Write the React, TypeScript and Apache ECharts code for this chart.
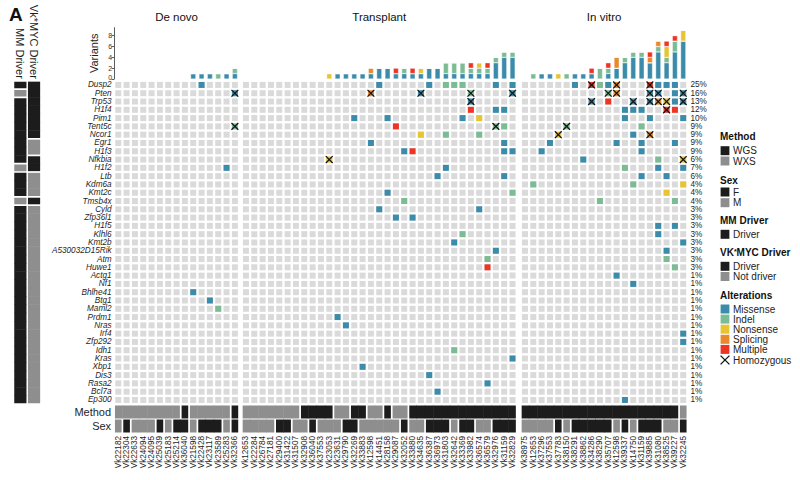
import React, { useEffect, useRef } from "react";
import * as echarts from "echarts";

const FONT = "'Liberation Sans', Arial, Helvetica, sans-serif";

// ---------- data ----------
const genes = ["Dusp2","Pten","Trp53","H1f4","Pim1","Tent5c","Ncor1","Egr1","H1f3","Nfkbia","H1f2","Ltb","Kdm6a","Kmt2c","Tmsb4x","Cyld","Zfp36l1","H1f5","Klhl6","Kmt2b","A530032D15Rik","Atm","Huwe1","Actg1","Nf1","Bhlhe41","Btg1","Maml2","Prdm1","Nras","Irf4","Zfp292","Idh1","Kras","Xbp1","Dis3","Rasa2","Bcl7a","Ep300"];

const genePct = ["25%","16%","13%","12%","10%","9%","9%","9%","9%","6%","7%","6%","4%","4%","4%","3%","3%","3%","3%","3%","3%","3%","3%",
  "1%","1%","1%","1%","1%","1%","1%","1%","1%","1%","1%","1%","1%","1%","1%","1%"];

const mmDriver = ["Driver","Not driver","Driver","Driver","Driver","Driver","Driver","Driver","Driver","Driver","Not driver","Driver","Driver","Driver","Not driver",
  "Driver","Driver","Driver","Driver","Driver","Driver","Driver","Driver","Driver","Driver","Driver","Driver","Driver","Driver","Driver","Driver","Driver","Driver","Driver","Driver","Driver","Driver","Driver","Driver"];

const vkDriver = ["Driver","Driver","Driver","Driver","Driver","Driver","Driver","Not driver","Not driver","Driver","Driver","Not driver","Not driver","Not driver","Driver",
  "Not driver","Not driver","Not driver","Not driver","Not driver","Not driver","Not driver","Not driver","Not driver","Not driver","Not driver","Not driver","Not driver","Not driver","Not driver","Not driver","Not driver","Not driver","Not driver","Not driver","Not driver","Not driver","Not driver","Not driver"];

const groupNames = ["De novo", "Transplant", "In vitro"];

const deNovoSamples = ["Vk22182","Vk22304","Vk22633","Vk24094","Vk24095","Vk25039","Vk25183","Vk25214","Vk36040","Vk21598","Vk22428","Vk23117","Vk23589","Vk25283","Vk32366"];
const transplantSamples = ["Vk12653","Vk22284","Vk26784","Vk27181","Vk29400","Vk31422","Vk31507","Vk32908","Vk36040","Vk37553","Vk23053","Vk23631","Vk29790","Vk32269","Vk33883","Vk12598","Vk14451","Vk28158","Vk29087","Vk32052","Vk33880","Vk34635","Vk36387","Vk36973","Vk31803","Vk32642","Vk33369","Vk33982","Vk36574","Vk36579","Vk32976","Vk31159","Vk32829"];
const inVitroSamples = ["Vk38975","Vk12653","Vk37296","Vk37553","Vk37783","Vk38150","Vk38291","Vk38862","Vk34286","Vk38290","Vk35707","Vk12598","Vk39337","Vk14750","Vk31159","Vk39885","Vk31080","Vk38525","Vk39227","Vk32245"];

const deNovoMethod = ["WXS","WXS","WXS","WXS","WXS","WXS","WXS","WXS","WGS","WXS","WXS","WXS","WXS","WXS","WGS"];
const transplantMethod = ["WXS","WXS","WXS","WXS","WXS","WXS","WXS","WGS","WGS","WGS","WGS","WXS","WXS","WGS","WGS","WXS","WXS","WGS","WXS","WXS",
  "WGS","WGS","WGS","WGS","WGS","WGS","WGS","WGS","WGS","WGS","WGS","WGS","WGS"];
const inVitroMethod = ["WGS","WGS","WGS","WGS","WGS","WGS","WGS","WGS","WGS","WGS","WGS","WGS","WGS","WGS","WGS","WGS","WGS","WGS","WGS","WXS"];

const deNovoSex = ["M","F","M","M","M","F","M","F","F","M","F","F","F","M","F"];
const transplantSex = ["M","M","M","M","F","F","M","M","F","M","M","M","F","F","M","M","M","M","M","F","M","M","F","F","F","M","F","F","M","M","F","F","F"];
const inVitroSex = ["M","M","M","M","F","M","F","F","F","F","F","M","F","M","F","F","F","M","M","F"];

const altTypes = ["Missense", "Indel", "Nonsense", "Splicing", "Multiple"];

// [sample, gene, alteration, homozygous]
const deNovoAlt = [
  ["Vk21598","Bhlhe41","Missense",0],
  ["Vk22428","Dusp2","Missense",0],
  ["Vk23117","Btg1","Missense",0],
  ["Vk23589","Maml2","Indel",0],
  ["Vk25283","H1f2","Missense",0],
  ["Vk32366","Pten","Missense",1],
  ["Vk32366","Tent5c","Indel",1],
];

const transplantAlt = [
  ["Vk23053","Nfkbia","Nonsense",1],
  ["Vk23631","Prdm1","Missense",0],
  ["Vk29790","Nras","Missense",0],
  ["Vk32269","Pim1","Missense",0],
  ["Vk33883","Xbp1","Missense",0],
  ["Vk12598","Pten","Splicing",1],
  ["Vk12598","Egr1","Missense",0],
  ["Vk14451","Dusp2","Missense",0],
  ["Vk14451","Cyld","Missense",0],
  ["Vk28158","Pim1","Missense",0],
  ["Vk28158","Kmt2c","Missense",0],
  ["Vk29087","Tent5c","Multiple",0],
  ["Vk29087","Zfp36l1","Missense",0],
  ["Vk32052","H1f3","Missense",0],
  ["Vk32052","Tmsb4x","Indel",0],
  ["Vk33880","H1f3","Multiple",0],
  ["Vk33880","Zfp36l1","Missense",0],
  ["Vk34635","Pten","Missense",1],
  ["Vk34635","Ncor1","Nonsense",0],
  ["Vk36387","Dusp2","Missense",0],
  ["Vk36387","Dis3","Missense",0],
  ["Vk36973","Ltb","Missense",0],
  ["Vk36973","Bcl7a","Missense",0],
  ["Vk31803","Dusp2","Indel",0],
  ["Vk31803","Ncor1","Indel",0],
  ["Vk31803","H1f2","Missense",0],
  ["Vk32642","Dusp2","Indel",0],
  ["Vk32642","Kmt2b","Missense",0],
  ["Vk32642","Idh1","Indel",0],
  ["Vk33369","Dusp2","Indel",0],
  ["Vk33369","Pim1","Missense",0],
  ["Vk33369","Klhl6","Indel",0],
  ["Vk33982","Pten","Indel",1],
  ["Vk33982","Trp53","Missense",1],
  ["Vk33982","H1f4","Multiple",0],
  ["Vk36574","Pim1","Nonsense",0],
  ["Vk36574","Ncor1","Indel",0],
  ["Vk36574","Cyld","Missense",0],
  ["Vk36579","Atm","Indel",0],
  ["Vk36579","Huwe1","Multiple",0],
  ["Vk36579","Rasa2","Missense",0],
  ["Vk32976","Dusp2","Missense",0],
  ["Vk32976","H1f4","Missense",0],
  ["Vk32976","Tent5c","Indel",1],
  ["Vk32976","A530032D15Rik","Missense",0],
  ["Vk31159","H1f4","Missense",0],
  ["Vk31159","Tent5c","Indel",0],
  ["Vk31159","Egr1","Missense",0],
  ["Vk31159","H1f3","Missense",0],
  ["Vk31159","Ltb","Missense",0],
  ["Vk32829","Dusp2","Missense",0],
  ["Vk32829","Pten","Missense",1],
  ["Vk32829","H1f3","Missense",0],
  ["Vk32829","Kmt2c","Indel",0],
  ["Vk32829","Kras","Missense",0],
];

const inVitroAlt = [
  ["Vk12653","Kdm6a","Indel",0],
  ["Vk37296","H1f3","Missense",0],
  ["Vk37553","Egr1","Missense",0],
  ["Vk37783","Ncor1","Nonsense",1],
  ["Vk38150","Tent5c","Indel",1],
  ["Vk38291","Dusp2","Missense",0],
  ["Vk38862","Nfkbia","Missense",0],
  ["Vk34286","Dusp2","Multiple",1],
  ["Vk34286","Trp53","Missense",1],
  ["Vk38290","Dusp2","Indel",0],
  ["Vk38290","Tmsb4x","Indel",0],
  ["Vk35707","Dusp2","Missense",0],
  ["Vk35707","Pten","Indel",1],
  ["Vk35707","Trp53","Multiple",0],
  ["Vk12598","Dusp2","Splicing",1],
  ["Vk12598","Pten","Splicing",1],
  ["Vk12598","Egr1","Missense",0],
  ["Vk12598","Actg1","Missense",0],
  ["Vk39337","H1f4","Missense",0],
  ["Vk39337","Pim1","Missense",0],
  ["Vk39337","H1f2","Indel",0],
  ["Vk39337","Ep300","Missense",0],
  ["Vk14750","Trp53","Missense",1],
  ["Vk14750","H1f4","Missense",0],
  ["Vk14750","Ncor1","Missense",0],
  ["Vk14750","Kdm6a","Indel",0],
  ["Vk14750","Nf1","Missense",0],
  ["Vk31159","H1f4","Missense",0],
  ["Vk31159","Tent5c","Indel",0],
  ["Vk31159","Egr1","Missense",0],
  ["Vk31159","H1f3","Missense",0],
  ["Vk31159","Ltb","Missense",0],
  ["Vk39885","Dusp2","Multiple",1],
  ["Vk39885","Pten","Missense",1],
  ["Vk39885","Trp53","Missense",1],
  ["Vk39885","Pim1","Missense",0],
  ["Vk39885","Ncor1","Splicing",1],
  ["Vk31080","Dusp2","Missense",0],
  ["Vk31080","Pten","Missense",1],
  ["Vk31080","Trp53","Splicing",1],
  ["Vk31080","Nfkbia","Indel",0],
  ["Vk31080","H1f2","Missense",0],
  ["Vk31080","H1f5","Missense",0],
  ["Vk31080","Klhl6","Missense",0],
  ["Vk38525","Dusp2","Missense",0],
  ["Vk38525","Trp53","Nonsense",1],
  ["Vk38525","H1f4","Multiple",1],
  ["Vk38525","Ltb","Missense",0],
  ["Vk38525","Kmt2c","Nonsense",0],
  ["Vk38525","A530032D15Rik","Missense",0],
  ["Vk38525","Atm","Indel",0],
  ["Vk39227","Dusp2","Missense",0],
  ["Vk39227","Pten","Missense",0],
  ["Vk39227","Trp53","Missense",0],
  ["Vk39227","H1f4","Multiple",0],
  ["Vk39227","Egr1","Missense",0],
  ["Vk39227","Tmsb4x","Indel",0],
  ["Vk39227","H1f5","Missense",0],
  ["Vk39227","Huwe1","Indel",0],
  ["Vk32245","Pten","Missense",1],
  ["Vk32245","Trp53","Missense",1],
  ["Vk32245","Pim1","Missense",0],
  ["Vk32245","Nfkbia","Nonsense",1],
  ["Vk32245","H1f2","Missense",0],
  ["Vk32245","Kdm6a","Nonsense",0],
  ["Vk32245","Kmt2b","Missense",0],
  ["Vk32245","Irf4","Missense",0],
  ["Vk32245","Zfp292","Missense",0],
];

const barTicks = [0, 2, 4, 6, 8];

// ---------- styling / layout ----------
const altColors = ["#3b8cab", "#7cbc95", "#e8c433", "#e8892c", "#ee3525"];
const DARK = "#1c1c1c";
const MID = "#8e8e8e";
const CELLBG = "#dadada";
const TXT = "#1e1e1e";

const COL = 8.33;
const ROW = 8.29;
const CELL = 6.0;
const GAP = 0.85;
const groupLeft = [114.1, 241.8, 520.8];
const GENE_TOP = 80.8;
const GENE_H = genes.length * ROW;
const BAR_TOP = 27.6;
const BAR_H = 51.4;
const ANN_TOP = 405;
const ANN_H = 28;
const SMALL = 8.2;

function buildOption() {
  const groups = [
    { samples: deNovoSamples, method: deNovoMethod, sex: deNovoSex, alts: deNovoAlt },
    { samples: transplantSamples, method: transplantMethod, sex: transplantSex, alts: transplantAlt },
    { samples: inVitroSamples, method: inVitroMethod, sex: inVitroSex, alts: inVitroAlt },
  ];

  const grid: any[] = [];
  const xAxis: any[] = [];
  const yAxis: any[] = [];
  const series: any[] = [];

  groups.forEach((g, gi) => {
    grid.push({ left: groupLeft[gi], top: BAR_TOP, width: g.samples.length * COL, height: BAR_H, outerBoundsMode: "none" });
  });
  groups.forEach((g, gi) => {
    grid.push({ left: groupLeft[gi], top: GENE_TOP, width: g.samples.length * COL, height: GENE_H, outerBoundsMode: "none" });
  });
  groups.forEach((g, gi) => {
    grid.push({ left: groupLeft[gi], top: ANN_TOP, width: g.samples.length * COL, height: ANN_H, outerBoundsMode: "none" });
  });
  grid.push({ left: 13.5, top: GENE_TOP, width: 27.4, height: GENE_H, outerBoundsMode: "none" });

  groups.forEach((g, gi) => {
    xAxis.push({ type: "category", gridIndex: gi, data: g.samples, show: false, boundaryGap: true });
    yAxis.push(
      gi === 0
        ? {
            type: "value", gridIndex: 0, min: 0, max: 9.5,
            name: "Variants", nameLocation: "middle", nameRotate: 90, nameGap: 15,
            nameTextStyle: { fontSize: 11, color: TXT, fontFamily: FONT },
            axisLine: { show: true, lineStyle: { color: "#333", width: 0.8 } },
            axisTick: { show: true, length: 2.5, lineStyle: { color: "#333", width: 0.8 }, customValues: barTicks },
            axisLabel: {
              fontSize: 7, margin: 2, color: "#333", fontFamily: FONT, customValues: barTicks,
              formatter: (v: number) => (v === 0 ? "{z|0}" : String(v)),
              rich: { z: { fontSize: 7, color: "#333", fontFamily: FONT, padding: [0, 0, 3, 0] } },
            },
            splitLine: { show: false },
          }
        : { type: "value", gridIndex: gi, min: 0, max: 9.5, show: false, splitLine: { show: false } }
    );
  });
  groups.forEach((g, gi) => {
    xAxis.push({ type: "category", gridIndex: 3 + gi, data: g.samples, show: false });
    if (gi === 0) {
      yAxis.push({
        type: "category", gridIndex: 3, data: genes, inverse: true,
        axisLine: { show: false }, axisTick: { show: false },
        axisLabel: { interval: 0, fontSize: SMALL, lineHeight: 8, fontStyle: "italic", color: TXT, margin: 2.5, fontFamily: FONT },
      });
    } else if (gi === 2) {
      yAxis.push({
        type: "category", gridIndex: 5, data: genes, inverse: true, position: "right",
        axisLine: { show: false }, axisTick: { show: false },
        axisLabel: { interval: 0, fontSize: SMALL, lineHeight: 8, color: TXT, margin: 3, fontFamily: FONT, formatter: (_v: any, i: number) => genePct[i] },
      });
    } else {
      yAxis.push({ type: "category", gridIndex: 3 + gi, data: genes, inverse: true, show: false });
    }
  });
  groups.forEach((g, gi) => {
    xAxis.push({
      type: "category", gridIndex: 6 + gi, data: g.samples, position: "bottom",
      axisLine: { show: false }, axisTick: { show: false },
      axisLabel: { interval: 0, rotate: 90, fontSize: SMALL, lineHeight: 8, color: TXT, margin: 3, fontFamily: FONT },
    });
    yAxis.push(
      gi === 0
        ? {
            type: "category", gridIndex: 6, data: ["Method", "Sex"], inverse: true,
            axisLine: { show: false }, axisTick: { show: false },
            axisLabel: { interval: 0, fontSize: 11, color: TXT, margin: 3, fontFamily: FONT },
          }
        : { type: "category", gridIndex: 6 + gi, data: ["Method", "Sex"], inverse: true, show: false }
    );
  });
  xAxis.push({
    type: "category", gridIndex: 9, data: ["MM Driver", "Vk*MYC Driver"], position: "top",
    axisLine: { show: false }, axisTick: { show: false },
    axisLabel: { interval: 0, rotate: 90, fontSize: 11, lineHeight: 12, color: TXT, margin: 2, fontFamily: FONT },
  });
  yAxis.push({ type: "category", gridIndex: 9, data: genes, inverse: true, show: false });

  // stacked bars: number of variants per sample, by alteration type
  groups.forEach((g, gi) => {
    altTypes.forEach((t, ti) => {
      series.push({
        type: "bar", xAxisIndex: gi, yAxisIndex: gi, stack: "v" + gi, barWidth: 5.2, silent: true,
        itemStyle: { color: altColors[ti], borderColor: "#ffffff", borderWidth: 0.4 },
        data: g.samples.map((s) => g.alts.filter((a) => a[0] === s && a[2] === t).length),
      });
    });
  });

  // oncoprint cells
  groups.forEach((g, gi) => {
    const bg: number[][] = [];
    g.samples.forEach((_s, c) => genes.forEach((_gn, r) => bg.push([c, r])));
    series.push({
      type: "custom", xAxisIndex: 3 + gi, yAxisIndex: 3 + gi, data: bg, silent: true,
      renderItem: (_p: any, api: any) => {
        const pt = api.coord([api.value(0), api.value(1)]);
        return { type: "rect", shape: { x: pt[0] - CELL / 2, y: pt[1] - CELL / 2, width: CELL, height: CELL }, style: { fill: CELLBG } };
      },
    });
    const ad = g.alts.map((a) => [g.samples.indexOf(a[0] as string), genes.indexOf(a[1] as string), altTypes.indexOf(a[2] as string), a[3]]);
    series.push({
      type: "custom", xAxisIndex: 3 + gi, yAxisIndex: 3 + gi, data: ad, silent: true,
      renderItem: (_p: any, api: any) => {
        const pt = api.coord([api.value(0), api.value(1)]);
        const children: any[] = [
          { type: "rect", shape: { x: pt[0] - CELL / 2, y: pt[1] - CELL / 2, width: CELL, height: CELL }, style: { fill: altColors[api.value(2)] } },
        ];
        if (api.value(3)) {
          const h = 3.4;
          children.push(
            { type: "line", shape: { x1: pt[0] - h, y1: pt[1] - h, x2: pt[0] + h, y2: pt[1] + h }, style: { stroke: "#151515", lineWidth: 1.3 } },
            { type: "line", shape: { x1: pt[0] - h, y1: pt[1] + h, x2: pt[0] + h, y2: pt[1] - h }, style: { stroke: "#151515", lineWidth: 1.3 } }
          );
        }
        return { type: "group", children };
      },
    });
  });

  // method / sex annotation rows
  groups.forEach((g, gi) => {
    const d: number[][] = [];
    [g.method, g.sex].forEach((arr, row) => {
      arr.forEach((v, c) => {
        const dark = v === "WGS" || v === "F" ? 1 : 0;
        const gl = c === 0 || arr[c - 1] !== v ? 1 : 0;
        const gr = c === arr.length - 1 || arr[c + 1] !== v ? 1 : 0;
        d.push([c, row, dark, gl, gr]);
      });
    });
    series.push({
      type: "custom", xAxisIndex: 6 + gi, yAxisIndex: 6 + gi, data: d, silent: true,
      renderItem: (_p: any, api: any) => {
        const pt = api.coord([api.value(0), api.value(1)]);
        const sz = api.size([1, 1]);
        const x0 = pt[0] - sz[0] / 2 + (api.value(3) ? GAP : -0.25);
        const x1 = pt[0] + sz[0] / 2 - (api.value(4) ? GAP : -0.25);
        return { type: "rect", shape: { x: x0, y: pt[1] - 6.5, width: x1 - x0, height: 13 }, style: { fill: api.value(2) ? DARK : MID } };
      },
    });
  });

  // left driver columns
  const ld: number[][] = [];
  [mmDriver, vkDriver].forEach((arr, col) => {
    arr.forEach((v, r) => {
      const gt = r === 0 || arr[r - 1] !== v ? 1 : 0;
      const gb = r === arr.length - 1 || arr[r + 1] !== v ? 1 : 0;
      ld.push([col, r, v === "Driver" ? 1 : 0, gt, gb]);
    });
  });
  series.push({
    type: "custom", xAxisIndex: 9, yAxisIndex: 9, data: ld, silent: true,
    renderItem: (_p: any, api: any) => {
      const pt = api.coord([api.value(0), api.value(1)]);
      const sz = api.size([1, 1]);
      const y0 = pt[1] - sz[1] / 2 + (api.value(3) ? GAP : -0.25);
      const y1 = pt[1] + sz[1] / 2 - (api.value(4) ? GAP : -0.25);
      return { type: "rect", shape: { x: pt[0] - 6.1, y: y0, width: 12.2, height: y1 - y0 }, style: { fill: api.value(2) ? DARK : MID } };
    },
  });

  // graphics: panel letter, group titles, legend
  const graphic: any[] = [];
  graphic.push({ type: "text", x: 9, y: 14, style: { text: "A", fontSize: 19, fontFamily: FONT, fontWeight: "bold", fill: "#111", verticalAlign: "middle" } });
  groups.forEach((g, gi) => {
    graphic.push({
      type: "text", x: groupLeft[gi] + (g.samples.length * COL) / 2, y: 17,
      style: { text: groupNames[gi], fontSize: 11.5, fontFamily: FONT, fill: "#111", align: "center", verticalAlign: "middle" },
    });
  });

  const LX = 720;
  const BX = 720.6;
  const TX = 733;
  const title = (text: string, y: number) => ({
    type: "text", x: LX, y, style: { text, fontSize: 10, fontWeight: "bold", fontFamily: FONT, fill: "#111", verticalAlign: "middle" },
  });
  const item = (text: string, y: number, color: string) => [
    { type: "rect", shape: { x: BX, y: y - 4.5, width: 8.8, height: 9 }, style: { fill: color } },
    { type: "text", x: TX, y, style: { text, fontSize: 10, lineHeight: 10, fontFamily: FONT, fill: "#222", verticalAlign: "middle" } },
  ];
  graphic.push(title("Method", 136.7));
  graphic.push(...item("WGS", 150.7, DARK), ...item("WXS", 161, MID));
  graphic.push(title("Sex", 180));
  graphic.push(...item("F", 192, DARK), ...item("M", 202.7, MID));
  graphic.push(title("MM Driver", 220.5));
  graphic.push(...item("Driver", 234.3, DARK));
  graphic.push({
    type: "text", x: LX, y: 252.7,
    style: {
      text: "{b|VK}{s|*}{b|MYC Driver}", fontFamily: FONT, fill: "#111", verticalAlign: "middle",
      rich: {
        b: { fontSize: 10, fontWeight: "bold", fontFamily: FONT, fill: "#111" },
        s: { fontSize: 7, fontWeight: "bold", fontFamily: FONT, fill: "#111", verticalAlign: "top" },
      },
    },
  });
  graphic.push(...item("Driver", 266.3, DARK), ...item("Not driver", 276.5, MID));
  graphic.push(title("Alterations", 295));
  altTypes.forEach((t, ti) => graphic.push(...item(t, 309 + ti * 10.1, altColors[ti])));
  const hy = 360;
  graphic.push(
    { type: "line", shape: { x1: BX, y1: hy - 4.4, x2: BX + 8.8, y2: hy + 4.4 }, style: { stroke: "#111", lineWidth: 1.3 } },
    { type: "line", shape: { x1: BX, y1: hy + 4.4, x2: BX + 8.8, y2: hy - 4.4 }, style: { stroke: "#111", lineWidth: 1.3 } },
    { type: "text", x: TX, y: hy, style: { text: "Homozygous", fontSize: 10, fontFamily: FONT, fill: "#222", verticalAlign: "middle" } }
  );

  return {
    animation: false,
    backgroundColor: "#ffffff",
    textStyle: { fontFamily: FONT },
    grid, xAxis, yAxis, series, graphic,
  };
}

export default function App() {
  const ref = useRef<HTMLDivElement>(null);
  useEffect(() => {
    const chart = echarts.init(ref.current as HTMLDivElement, null, { renderer: "svg" });
    chart.setOption(buildOption() as any);
    return () => chart.dispose();
  }, []);
  return (
    <div
      ref={ref}
      style={{ position: "fixed", left: 0, top: 0, width: 800, height: 480, background: "#fff" }}
    />
  );
}
